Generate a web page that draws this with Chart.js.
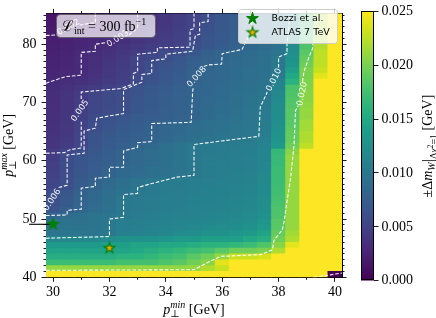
<!DOCTYPE html>
<html>
<head>
<meta charset="utf-8">
<script src="https://cdn.jsdelivr.net/npm/chart.js@4.4.1/dist/chart.umd.min.js"></script>
<style>
html, body { margin: 0; padding: 0; background: #fff; }
#wrap { position: relative; width: 436px; height: 318px; }
#wrap canvas { position: absolute; left: 0; top: 0; }
</style>
</head>
<body>
<div id="wrap">
<canvas id="mapa" width="436" height="318"></canvas>
<canvas id="barra" width="436" height="318"></canvas>
</div>
<script>
// bins of pT min (centres, GeV)
const ptMinCentres = [30, 30.5, 31, 31.5, 32, 32.5, 33, 33.5, 34, 34.5, 35, 35.5, 36, 36.5, 37, 37.5, 38, 38.5, 39, 39.5, 40];
// lower edge of each pT max row (GeV), rows are 1 GeV tall
const ptMaxLow = [40, 41, 42, 43, 44, 45, 46, 47, 48, 49, 50, 51, 52, 53, 54, 55, 56, 57, 58, 59, 60, 61, 62, 63, 64, 65, 66, 67, 68, 69, 70, 71, 72, 73, 74, 75, 76, 77, 78, 79, 80, 81, 82, 83, 84, 85];
// +-Delta m_W, in units of 1e-3 GeV, one row per pT max bin (bottom to top)
const dmW = [
  [25, 25, 25, 25, 25, 25, 25, 25, 25, 25, 25, 25, 25, 25, 25, 25, 25, 25, 25, 25, 0],
  [21, 21, 21, 21, 21, 21, 21, 21, 21, 21, 21, 22, 23, 25, 25, 25, 25, 25, 25, 25, 25],
  [17, 17, 17, 17, 17, 17.5, 17.5, 17.5, 18, 18.5, 19.5, 20.5, 24, 25, 25, 25, 25, 25, 25, 25, 25],
  [15.5, 15.5, 15.5, 15.5, 15.5, 16, 16, 16.5, 17, 17.5, 18.5, 19.5, 21, 23, 23, 23.5, 25, 25, 25, 25, 25],
  [14.5, 14.5, 14.5, 14.5, 14.5, 14.5, 15, 15.5, 16, 16.5, 17, 17.5, 18.5, 19.5, 19.5, 20, 22, 25, 25, 25, 25],
  [13.5, 13.5, 13.5, 13.5, 14, 14, 14.5, 14.5, 15, 15, 15.5, 16, 16, 16.5, 17, 18, 20.5, 24, 25, 25, 25],
  [11.5, 11.5, 11.5, 11.5, 12, 12.5, 12.5, 12.5, 13, 13.5, 13.5, 14, 14, 14, 15, 15.5, 19.5, 22, 25, 25, 25],
  [9.8, 9.8, 9.7, 9.8, 10, 10.8, 11, 11.2, 11.5, 11.8, 12, 12.5, 12.5, 13, 13.5, 14.5, 19, 21.5, 25, 25, 25],
  [9.5, 9.5, 9.5, 9.6, 10, 10.6, 10.8, 11, 11.2, 11.4, 11.6, 11.8, 12, 12.2, 12.5, 13.5, 18.5, 21, 25, 25, 25],
  [9.3, 9.3, 9.3, 9.5, 10, 10.5, 10.7, 10.8, 11, 11.2, 11.3, 11.5, 11.6, 11.8, 12, 13, 18.5, 21, 25, 25, 25],
  [8.2, 8.8, 9.2, 9.5, 9.8, 10, 10.4, 10.6, 10.8, 11, 11.1, 11.3, 11.4, 11.5, 11.8, 12.5, 18, 21, 25, 25, 25],
  [6.5, 7.5, 8.3, 8.8, 9.4, 9.9, 10.2, 10.4, 10.6, 10.8, 11, 11.1, 11.2, 11.4, 11.6, 12.3, 18, 21, 25, 25, 25],
  [6.1, 7.0, 8.0, 8.6, 9.3, 9.9, 10.2, 10.3, 10.5, 10.7, 10.9, 11, 11.1, 11.3, 11.5, 12.2, 17.8, 21, 25, 25, 25],
  [6.0, 6.9, 8.0, 8.5, 9.2, 9.9, 10.1, 10.3, 10.5, 10.6, 10.8, 10.9, 11, 11.2, 11.4, 12, 17.5, 21, 25, 25, 25],
  [5.8, 6.7, 7.9, 8.4, 9.0, 9.6, 10, 10.2, 10.4, 10.5, 10.7, 10.8, 10.9, 11.1, 11.3, 11.9, 17.3, 21, 25, 25, 25],
  [5.3, 6.0, 7.2, 8.0, 8.7, 9.2, 9.7, 10.1, 10.3, 10.4, 10.6, 10.7, 10.8, 11, 11.2, 11.8, 17.2, 21, 25, 25, 25],
  [5.1, 5.9, 7.0, 7.9, 8.6, 9.1, 9.5, 9.9, 10.2, 10.3, 10.5, 10.6, 10.8, 10.9, 11.1, 11.7, 17, 21, 25, 25, 25],
  [4.8, 5.9, 6.8, 7.4, 8.0, 8.5, 8.8, 9.1, 9.4, 9.7, 10, 10.4, 10.6, 10.8, 11, 11.6, 17, 21, 25, 25, 25],
  [4.7, 5.8, 6.7, 7.3, 7.9, 8.4, 8.7, 9.0, 9.3, 9.6, 9.9, 10.3, 10.5, 10.7, 10.9, 11.5, 17, 21, 25, 25, 25],
  [4.6, 5.8, 6.6, 7.1, 7.6, 8.0, 8.4, 8.8, 9.2, 9.6, 10, 10.3, 10.5, 10.6, 10.8, 11.4, 16.8, 21, 25, 25, 25],
  [4.5, 5.7, 6.5, 7.0, 7.5, 8.0, 8.4, 8.8, 9.2, 9.6, 10, 10.3, 10.4, 10.6, 10.8, 11.3, 16.8, 21, 25, 25, 25],
  [4.4, 5.2, 6.0, 6.8, 7.4, 8.0, 8.4, 8.8, 9.2, 9.6, 10, 10.2, 10.4, 10.5, 10.7, 11.2, 16.6, 20.5, 25, 25, 25],
  [3.9, 4.4, 5.2, 6.5, 7.1, 7.6, 8.0, 8.5, 9.0, 9.5, 10, 10.2, 10.3, 10.4, 10.5, 11, 13.5, 19.5, 22.5, 25, 25],
  [3.8, 4.3, 5.1, 6.4, 6.9, 7.3, 7.6, 8.0, 8.4, 8.8, 9.2, 9.6, 9.9, 10.1, 10.4, 10.8, 13, 19, 22, 25, 25],
  [3.7, 4.2, 5.0, 6.3, 6.8, 7.2, 7.5, 7.9, 8.3, 8.6, 8.9, 9.2, 9.5, 9.8, 10, 10.5, 12.8, 19, 22, 25, 25],
  [3.6, 4.1, 4.9, 5.9, 6.5, 7.0, 7.4, 7.9, 8.2, 8.5, 8.8, 9.1, 9.4, 9.7, 9.9, 10.4, 12.5, 18.8, 21.5, 25, 25],
  [3.5, 4.0, 4.8, 5.8, 6.4, 6.8, 7.2, 7.6, 7.9, 8.3, 8.6, 9.0, 9.3, 9.6, 9.9, 10.3, 12.3, 18.5, 21.5, 25, 25],
  [3.5, 4.0, 4.7, 5.6, 6.2, 6.6, 7.0, 7.3, 7.6, 7.8, 8.0, 8.5, 9.0, 9.4, 9.8, 10.2, 12.2, 18.5, 21, 25, 25],
  [3.4, 3.9, 4.6, 5.3, 5.7, 6.0, 6.6, 7.1, 7.5, 7.8, 8.1, 8.5, 8.9, 9.3, 9.7, 10.1, 12, 18.5, 21, 25, 25],
  [3.4, 3.9, 4.5, 5.2, 5.6, 6.0, 6.5, 7.0, 7.4, 7.8, 8.1, 8.4, 8.8, 9.2, 9.6, 10, 12, 18.3, 20.8, 25, 25],
  [3.3, 3.8, 4.5, 5.2, 5.6, 5.9, 6.5, 7.0, 7.4, 7.8, 8.1, 8.4, 8.7, 9.1, 9.5, 9.9, 11.8, 18.2, 20.5, 25, 25],
  [3.3, 3.8, 4.4, 5.1, 5.5, 5.9, 6.4, 6.9, 7.3, 7.7, 8.0, 8.3, 8.6, 9.0, 9.4, 9.8, 11.6, 18, 20.5, 25, 25],
  [3.2, 3.6, 4.0, 4.4, 4.8, 5.3, 6.3, 6.8, 7.2, 7.6, 8.0, 8.3, 8.6, 8.9, 9.2, 9.6, 11.3, 17.8, 20.3, 25, 25],
  [3.0, 3.3, 3.6, 4.0, 4.4, 4.7, 5.5, 6.3, 6.8, 7.3, 7.9, 8.2, 8.5, 8.8, 9.1, 9.5, 11, 16, 20.2, 25, 25],
  [2.7, 2.9, 3.2, 3.7, 4.2, 4.6, 5.4, 6.2, 6.7, 7.2, 7.9, 8.2, 8.4, 8.7, 9.0, 9.4, 10.2, 15, 20, 24, 25],
  [2.6, 2.8, 3.0, 3.6, 4.1, 4.5, 5.0, 6.0, 6.5, 7.0, 7.7, 8.1, 8.4, 8.7, 9.0, 9.4, 10, 14, 20, 23, 25],
  [2.5, 2.7, 3.0, 3.5, 4.0, 4.4, 5.0, 5.8, 6.4, 6.9, 7.5, 8.0, 8.3, 8.6, 8.9, 9.3, 10, 13, 19.5, 22.5, 25],
  [2.4, 2.6, 3.0, 3.4, 3.9, 4.3, 5.0, 5.4, 6.0, 6.6, 7.3, 7.8, 8.1, 8.5, 8.8, 9.3, 9.9, 12.5, 19, 22.5, 25],
  [2.3, 2.5, 2.9, 3.2, 3.6, 4.0, 4.5, 5.1, 5.5, 6.0, 6.8, 7.5, 8.0, 8.4, 8.7, 9.0, 9.7, 12, 18.5, 22.5, 25],
  [2.2, 2.4, 2.7, 3.0, 3.4, 3.8, 4.2, 4.5, 4.8, 5.0, 6.0, 6.6, 7.2, 7.8, 8.3, 8.8, 9.5, 12, 18, 22, 25],
  [2.1, 2.3, 2.6, 2.8, 3.0, 3.5, 3.9, 4.2, 4.5, 4.8, 5.5, 6.5, 7.0, 7.6, 8.0, 8.7, 9.4, 11.5, 17.5, 22, 25],
  [2.0, 2.2, 2.4, 2.6, 2.8, 3.0, 3.5, 4.0, 4.4, 4.8, 5.4, 6.3, 6.9, 7.5, 8.0, 8.6, 9.4, 11.5, 17.5, 22, 25],
  [1.8, 2.0, 2.2, 2.4, 2.6, 2.9, 3.2, 3.7, 4.2, 4.7, 5.2, 6.2, 6.8, 7.4, 7.9, 8.6, 9.4, 11.5, 17, 22, 25],
  [1.6, 1.7, 1.9, 2.1, 2.4, 2.7, 3.0, 3.5, 4.0, 4.5, 5.0, 6.1, 6.8, 7.4, 7.9, 8.6, 9.5, 11.5, 17, 22, 25],
  [1.5, 1.6, 1.8, 2.1, 2.4, 2.7, 3.0, 3.5, 4.0, 4.5, 5.0, 5.9, 6.8, 7.4, 7.9, 8.6, 9.5, 11.5, 17, 22, 25],
  [1.5, 1.6, 1.8, 2.1, 2.4, 2.7, 3.0, 3.5, 4.0, 4.5, 5.0, 5.9, 6.8, 7.4, 7.9, 8.6, 9.5, 11.5, 17, 22, 25]
];

// contour lines, [pT min, pT max]; null = gap for the inline label
const cont002 = [[29.75, 81.5], [30.15, 81.6], null, [30.95, 83.3], [31.3, 83.6], [31.5, 83.7], [31.5, 85.4]];
const cont003 = [[29.75, 73.3], [30.1, 73.9], [30.45, 74.45], [31.0, 74.7], [31.0, 78.6], [31.5, 78.8], [31.5, 80.0], [31.9, 80.3], null, [32.7, 81.6], [33.0, 82.8], [33.0, 85.4]];
const cont005 = [[29.75, 61.3], [30.4, 61.4], [30.6, 61.9], [31.0, 62.2], [31.0, 66.7], null, [31.0, 70.6], [31.0, 71.8], [32.4, 72.4], [32.85, 73.2], [32.85, 75.0], [33.0, 75.3], [33.0, 78.3], [33.7, 78.6], [33.7, 79.4], [34.86, 79.5], [34.86, 82.5], [35.0, 82.7], [35.0, 85.4]];
const cont006 = [[29.75, 51.3], null, [30.2, 55.4], [30.5, 55.8], [30.5, 61.0], [31.1, 61.3], [31.1, 65.1], [31.5, 65.6], [31.55, 67.3], [32.0, 67.7], [32.5, 68.1], [32.5, 72.2], [33.15, 73.5], [33.15, 74.8], [33.5, 75.0], [33.5, 77.2], [34.0, 77.5], [34.0, 78.3], [34.95, 78.8], [35.05, 81.5], [35.2, 81.7], [35.2, 83.7], [35.5, 83.9], [35.5, 85.4]];
const cont008 = [[29.75, 50.6], [30.5, 50.7], [30.5, 51.5], [31.0, 51.7], [31.0, 55.3], [31.5, 55.6], [31.5, 57.0], [32.0, 57.2], [32.0, 58.9], [32.5, 58.9], [32.5, 61.7], [33.0, 62.3], [33.0, 63.1], [33.5, 63.3], [33.5, 66.4], [34.9, 66.6], [34.95, 71.7], [34.97, 72.6], null, [35.35, 76.2], [35.5, 76.45], [35.98, 76.6], [36.0, 78.4], [36.7, 79.1], [37.0, 82.0], [37.1, 85.4]];
const cont010 = [[29.75, 46.7], [32.0, 47.0], [32.0, 50.0], [32.5, 50.3], [32.5, 54.2], [33.0, 54.4], [33.0, 55.4], [33.5, 56.1], [34.4, 57.2], [35.0, 57.5], [35.0, 62.8], [37.3, 64.2], [37.35, 69.2], [37.6, 71.8], null, [38.0, 76.0], [38.0, 77.8], [38.3, 78.4], [38.3, 80.1], [38.4, 84.5], [38.45, 85.4]];
const cont020 = [[29.75, 41.2], [35.0, 41.3], [35.47, 42.5], [35.95, 43.6], [37.37, 43.9], [37.78, 44.7], [37.84, 46.4], [38.13, 48.1], [38.19, 49.45], [38.31, 53.3], [38.43, 57.2], [38.55, 62.8], [38.6, 68.6], [38.7, 69.5], null, [38.85, 73.6], [38.9, 75.3], [39.08, 77.8], [39.2, 79.2], [39.26, 82.0], [39.43, 85.4]];
const contCorner = [[39.25, 40.0], [39.75, 40.35], [40.25, 40.75]];
const contourLabels = [
  {t: '0.002', x: 30.55, y: 82.9, a: -30},
  {t: '0.003', x: 32.3, y: 80.95, a: -32},
  {t: '0.005', x: 30.96, y: 68.6, a: -55},
  {t: '0.006', x: 29.97, y: 53.3, a: -56},
  {t: '0.008', x: 35.1, y: 74.4, a: -48},
  {t: '0.010', x: 37.84, y: 73.9, a: -63},
  {t: '0.020', x: 38.84, y: 71.5, a: -78}
];

// reference points
const bozzi = {x: 30, y: 49.1};
const bozziArrowEnd = 29.15;
const atlas7 = {x: 32, y: 45};

// ticks
const xMajor = [30, 32, 34, 36, 38, 40];
const xMinor = [31, 33, 35, 37, 39];
const yMajor = [40, 50, 60, 70, 80];
const yMinor = [41, 42, 43, 44, 45, 46, 47, 48, 49, 51, 52, 53, 54, 55, 56, 57, 58, 59, 61, 62, 63, 64, 65, 66, 67, 68, 69, 71, 72, 73, 74, 75, 76, 77, 78, 79, 81, 82, 83, 84, 85];
const cbTicks = [0, 0.005, 0.010, 0.015, 0.020, 0.025];
const cbMax = 0.025;

// viridis
const viridisStops = ['#440154', '#471365', '#482475', '#46337e', '#414487', '#3b528b', '#355f8d', '#2f6c8e', '#2a788e', '#25848e',
  '#21918c', '#1e9c89', '#22a884', '#2fb47c', '#44bf70', '#5ec962', '#7ad151', '#9bd93c', '#bddf26', '#dde318', '#fde725'];
function hexRgb(h) { return [parseInt(h.substr(1, 2), 16), parseInt(h.substr(3, 2), 16), parseInt(h.substr(5, 2), 16)]; }
const viridisRgb = viridisStops.map(hexRgb);
function viridis(f) {
  f = Math.max(0, Math.min(1, f));
  const p = f * (viridisRgb.length - 1);
  const i = Math.min(Math.floor(p), viridisRgb.length - 2);
  const t = p - i;
  const a = viridisRgb[i], b = viridisRgb[i + 1];
  return 'rgb(' + [0, 1, 2].map(k => Math.round(a[k] + (b[k] - a[k]) * t)).join(',') + ')';
}

const serif = '"Liberation Serif", "DejaVu Serif", serif';
function F(size, italic) { return (italic ? 'italic ' : '') + size + 'px ' + serif; }

// text with sub/superscripts: [text, font, dy, stackOnPrevious]
function richText(ctx, parts, x, y, rot, align) {
  ctx.save();
  ctx.translate(x, y);
  ctx.rotate(rot);
  const widths = parts.map(p => { ctx.font = p[1]; return ctx.measureText(p[0]).width; });
  const pos = [];
  let cur = 0, lastStart = 0, lastW = 0;
  parts.forEach((p, i) => {
    if (p[3]) {
      pos.push(lastStart);
      lastW = Math.max(lastW, widths[i]);
      cur = lastStart + lastW;
    } else {
      pos.push(cur);
      lastStart = cur;
      lastW = widths[i];
      cur += widths[i];
    }
  });
  const x0 = align === 'center' ? -cur / 2 : 0;
  ctx.fillStyle = '#000';
  ctx.textBaseline = 'alphabetic';
  ctx.textAlign = 'left';
  parts.forEach((p, i) => { ctx.font = p[1]; ctx.fillText(p[0], x0 + pos[i], p[2]); });
  ctx.restore();
}

function roundRect(ctx, x, y, w, h, r) {
  ctx.beginPath();
  ctx.moveTo(x + r, y);
  ctx.arcTo(x + w, y, x + w, y + h, r);
  ctx.arcTo(x + w, y + h, x, y + h, r);
  ctx.arcTo(x, y + h, x, y, r);
  ctx.arcTo(x, y, x + w, y, r);
  ctx.closePath();
}

function starImage(r, fill, edge, lw) {
  const c = document.createElement('canvas');
  const s = Math.ceil(2 * r + 2 * lw + 2);
  c.width = s; c.height = s;
  const g = c.getContext('2d');
  g.translate(s / 2, s / 2);
  g.beginPath();
  for (let k = 0; k < 10; k++) {
    const rr = k % 2 ? r * 0.382 : r;
    const a = -Math.PI / 2 + k * Math.PI / 5;
    g.lineTo(rr * Math.cos(a), rr * Math.sin(a));
  }
  g.closePath();
  g.fillStyle = fill;
  g.fill();
  g.lineWidth = lw;
  g.strokeStyle = edge;
  g.lineJoin = 'miter';
  g.stroke();
  return c;
}
const starGreen = starImage(6.2, '#008000', '#008000', 1);
const starOrange = starImage(5.6, '#ffa500', '#008000', 1.2);

function toPts(arr) {
  let last = arr[0];
  return arr.map(p => {
    if (p) { last = p; return {x: p[0], y: p[1]}; }
    return {x: last[0], y: null};
  });
}

// heatmap cells: one floating-bar dataset per pT max row
const datasets = [];
ptMaxLow.forEach((low, r) => {
  datasets.push({
    type: 'bar',
    data: ptMinCentres.map(x => ({x: x, y: [low, low + 1]})),
    backgroundColor: dmW[r].map(v => viridis(v / 25)),
    borderWidth: 0,
    inflateAmount: 0.4,
    grouped: false,
    barPercentage: 1,
    categoryPercentage: 1,
    order: 10
  });
});
[cont002, cont003, cont005, cont006, cont008, cont010, cont020, contCorner].forEach(c => {
  datasets.push({
    type: 'line',
    data: toPts(c),
    borderColor: 'rgba(255,255,255,0.95)',
    borderWidth: 1.1,
    borderDash: [3.6, 1.8],
    pointRadius: 0,
    tension: 0,
    fill: false,
    spanGaps: false,
    order: 3
  });
});
datasets.push({
  type: 'line',
  data: [bozzi, {x: bozziArrowEnd, y: bozzi.y}],
  borderColor: '#000',
  borderWidth: 1.1,
  pointRadius: [0, 3],
  pointStyle: 'triangle',
  pointRotation: [0, 270],
  pointBackgroundColor: '#000',
  pointBorderColor: '#000',
  pointBorderWidth: 0,
  clip: false,
  order: 2
});
datasets.push({type: 'line', showLine: false, data: [bozzi], pointStyle: starGreen, pointRadius: 6, clip: false, order: 1});
datasets.push({type: 'line', showLine: false, data: [atlas7], pointStyle: starOrange, pointRadius: 6, clip: false, order: 1});

const tickFont = {family: serif, size: 14};
function axis(pos, ticksArr, len, withLabels, withBorder, weight, size) {
  const horiz = pos === 'top' || pos === 'bottom';
  return {
    type: 'linear',
    position: pos,
    min: horiz ? 29.75 : 40,
    max: horiz ? 40.25 : 85.3,
    offset: false,
    weight: weight,
    z: 2,
    afterBuildTicks: s => { s.ticks = ticksArr.map(v => ({value: v})); },
    afterFit: s => { if (horiz) s.height = size; else s.width = size; },
    grid: {display: true, offset: false, drawOnChartArea: false, drawTicks: true, tickLength: len, tickColor: '#000', tickWidth: 0.9},
    border: {display: withBorder, color: '#000', width: 1},
    ticks: {
      display: withLabels,
      autoSkip: false,
      maxRotation: 0,
      color: '#000',
      font: tickFont,
      padding: horiz ? 2 : 5,
      callback: v => String(v)
    }
  };
}

const labelsPlugin = {
  id: 'labels',
  afterDatasetsDraw(chart) {
    const ctx = chart.ctx;
    const sx = chart.scales.x, sy = chart.scales.y;
    ctx.save();
    ctx.fillStyle = 'rgba(255,255,255,0.95)';
    ctx.font = '8.5px "DejaVu Sans"';
    ctx.textAlign = 'center';
    ctx.textBaseline = 'middle';
    contourLabels.forEach(l => {
      ctx.save();
      ctx.translate(sx.getPixelForValue(l.x), sy.getPixelForValue(l.y));
      ctx.rotate(l.a * Math.PI / 180);
      ctx.fillText(l.t, 0, 0);
      ctx.restore();
    });
    ctx.restore();
  },
  afterDraw(chart) {
    const ctx = chart.ctx;
    const a = chart.chartArea;
    // luminosity box
    ctx.save();
    roundRect(ctx, 56.5, 14.5, 99, 23, 4);
    ctx.fillStyle = 'rgba(255,255,255,0.72)';
    ctx.fill();
    ctx.lineWidth = 1;
    ctx.strokeStyle = 'rgba(90,90,90,0.75)';
    ctx.stroke();
    ctx.restore();
    richText(ctx, [['ℒ', F(15), 0], ['int', F(10), 3], [' = 300 fb', F(14), 0], ['−1', F(10), -6]], 61, 30.5, 0, 'left');
    // legend
    ctx.save();
    roundRect(ctx, 238.5, 9.5, 99, 34, 3);
    ctx.fillStyle = 'rgba(255,255,255,0.8)';
    ctx.fill();
    ctx.strokeStyle = '#cccccc';
    ctx.lineWidth = 1;
    ctx.stroke();
    ctx.drawImage(starGreen, 252.5 - starGreen.width / 2, 18.5 - starGreen.height / 2);
    ctx.drawImage(starOrange, 252.5 - starOrange.width / 2, 32.5 - starOrange.height / 2);
    ctx.fillStyle = '#000';
    ctx.font = '9.5px "DejaVu Sans"';
    ctx.textBaseline = 'middle';
    ctx.textAlign = 'left';
    ctx.fillText('Bozzi et al.', 271.5, 18.5);
    ctx.fillText('ATLAS 7 TeV', 271.5, 32.5);
    ctx.restore();
    // axis titles
    richText(ctx, [['p', F(14, true), 0], ['⊥', F(10), 3], ['min', F(10, true), -6, true], [' [GeV]', F(14), 0]], (a.left + a.right) / 2, 313.5, 0, 'center');
    richText(ctx, [['p', F(14, true), 0], ['⊥', F(10), 3], ['max', F(10, true), -6, true], [' [GeV]', F(14), 0]], 12.5, (a.top + a.bottom) / 2, -Math.PI / 2, 'center');
  }
};

new Chart(document.getElementById('mapa'), {
  type: 'bar',
  data: {datasets: datasets},
  options: {
    responsive: false,
    animation: false,
    events: [],
    layout: {padding: {left: 0, top: 5, right: 94, bottom: 0}},
    plugins: {legend: {display: false}, tooltip: {enabled: false}},
    scales: {
      x: axis('bottom', xMajor, 4.5, true, true, 0, 40.7),
      xMinor: axis('bottom', xMinor, 2.5, false, false, -1, 0),
      xTop: axis('top', xMajor, 4.5, false, true, 0, 0),
      xTopMinor: axis('top', xMinor, 2.5, false, false, -1, 0),
      y: axis('left', yMajor, 4.5, true, true, 0, 46),
      yMinor: axis('left', yMinor, 2.5, false, false, -1, 0),
      yRight: axis('right', yMajor, 4.5, false, true, 0, 0),
      yRightMinor: axis('right', yMinor, 2.5, false, false, -1, 0)
    }
  },
  plugins: [labelsPlugin]
});

// colour bar
const cbSegments = 125;
const cbDatasets = [];
for (let k = 0; k < cbSegments; k++) {
  const v0 = cbMax * k / cbSegments, v1 = cbMax * (k + 1) / cbSegments;
  cbDatasets.push({
    data: [[v0, v1]],
    backgroundColor: viridis((k + 0.5) / cbSegments),
    borderWidth: 0,
    inflateAmount: 0.5,
    grouped: false,
    barPercentage: 1,
    categoryPercentage: 1
  });
}
const cbPlugin = {
  id: 'cbFrame',
  afterDraw(chart) {
    const ctx = chart.ctx;
    const a = chart.chartArea;
    ctx.save();
    ctx.strokeStyle = '#000';
    ctx.lineWidth = 1;
    ctx.strokeRect(Math.round(a.left) + 0.5, Math.round(a.top) + 0.5, Math.round(a.right - a.left) - 1, Math.round(a.bottom - a.top) - 1);
    ctx.restore();
    richText(ctx, [['±Δ', F(14), 0], ['m', F(14, true), 0], ['W', F(10, true), 3], ['|', F(16), 2],
      ['Δ', F(10), 5], ['χ', F(10, true), 5], ['2', F(7.5), 0.5], ['=1', F(10), 5], [' [GeV]', F(14), 0]],
      432, (a.top + a.bottom) / 2, -Math.PI / 2, 'center');
  }
};
new Chart(document.getElementById('barra'), {
  type: 'bar',
  data: {labels: ['cb'], datasets: cbDatasets},
  options: {
    responsive: false,
    animation: false,
    events: [],
    layout: {padding: {left: 361, top: 5, right: 0, bottom: 37.3}},
    plugins: {legend: {display: false}, tooltip: {enabled: false}},
    scales: {
      x: {type: 'category', display: false, offset: true},
      y: {
        type: 'linear',
        position: 'right',
        min: 0,
        max: cbMax,
        afterBuildTicks: s => { s.ticks = cbTicks.map(v => ({value: v})); },
        afterFit: s => { s.width = 62; },
        grid: {display: true, drawOnChartArea: false, drawTicks: true, tickLength: 4.5, tickColor: '#000', tickWidth: 0.9},
        border: {display: false},
        ticks: {color: '#000', font: tickFont, padding: 3, callback: v => v.toFixed(3)}
      }
    }
  },
  plugins: [cbPlugin]
});
</script>
</body>
</html>
